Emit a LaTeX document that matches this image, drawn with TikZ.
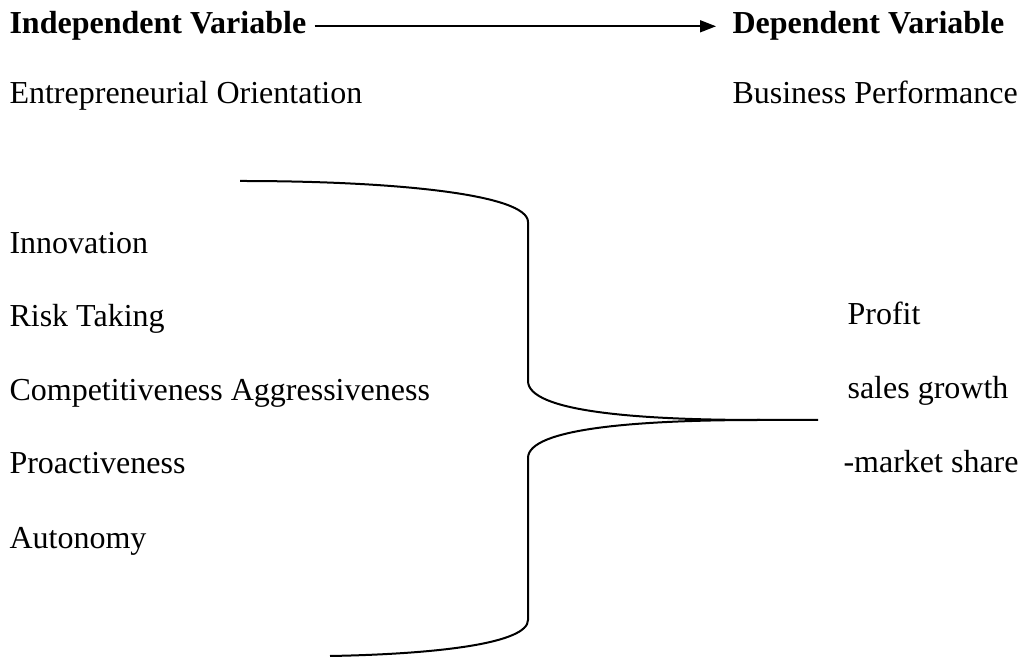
\documentclass[tikz,border=0pt]{standalone}
\usepackage{fontspec}
\setmainfont{Liberation Serif}
\usetikzlibrary{arrows.meta, positioning}

\begin{document}
\begin{tikzpicture}[x=0.375pt, y=-0.375pt, >={Triangle[length=6pt, width=4.5pt]},
    dimtext/.style={anchor=base west, inner sep=0pt, font=\fontsize{12}{14}\selectfont},
    headtext/.style={dimtext, font=\fontsize{12}{14}\selectfont\bfseries}]

    \useasboundingbox (0,0) rectangle (1021,657);

    % --- VARIABLES ---
    \node[headtext] (iv) at (9,34) {Independent Variable};
    \node[headtext] (dv) at (732,34) {Dependent Variable};
    \draw[->, line width=0.6pt, shorten <=3pt, shorten >=6pt] (iv.east) -- (dv.west);

    \node[dimtext] (eo) at (9,104) {Entrepreneurial Orientation};
    \node[dimtext] (bp) at (732,104) {Business Performance};

    % --- DIMENSIONS OF EO ---
    \node[dimtext] (inno) at (9,254) {Innovation};
    \node[dimtext] (risk) at (9,327) {Risk Taking};
    \node[dimtext] (comp) at (9,401) {Competitiveness Aggressiveness};
    \node[dimtext] (proa) at (9,474) {Proactiveness};
    \node[dimtext] (auto) at (9,548) {Autonomy};

    % --- MEASURES OF PERFORMANCE ---
    \node[dimtext] (prof) at (847,325) {Profit};
    \node[dimtext] (sales) at (847,399) {sales growth};
    \node[dimtext] (share) at (843,473) {-market share};

    % Brace joining the two sides
    \draw[line width=0.75pt] (240,181) .. controls (400,181) and (528,195) .. (528,222)
        -- (528,381) .. controls (528,412) and (640,420) .. (760,420) -- (818,420);
    \draw[line width=0.75pt] (760,420) .. controls (640,420) and (528,428) .. (528,458)
        -- (528,620) .. controls (528,643) and (440,654) .. (330,656);
\end{tikzpicture}
\end{document}
